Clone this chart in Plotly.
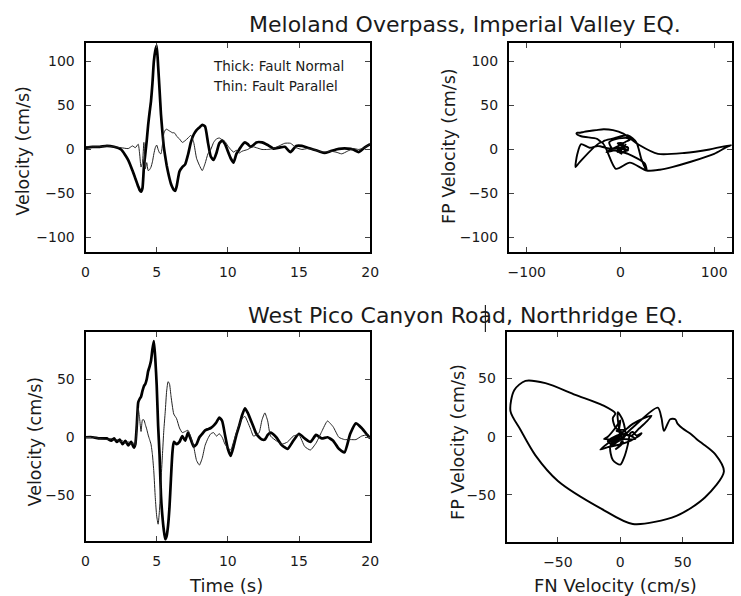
import plotly.graph_objects as go

# ---------------- data ----------------
# Meloland Overpass, Imperial Valley EQ.
t_top = [0, 0.5, 1, 1.5, 2, 2.5, 3.0, 3.3, 3.5,
         3.7, 3.8, 3.9, 4.0, 4.1, 4.2, 4.3, 4.4, 4.5, 4.6, 4.7, 4.8, 4.9, 5.0,
         5.1, 5.2, 5.3, 5.4, 5.5, 5.6, 5.7, 5.8, 5.9, 6.0, 6.1, 6.2, 6.3, 6.4,
         6.6, 6.8, 7.0, 7.2, 7.4, 7.6, 7.8, 8.0, 8.2, 8.4, 8.6, 8.8, 9.0, 9.2,
         9.4, 9.6, 9.8, 10.0, 10.2, 10.4, 10.6, 10.8, 11.0, 11.2, 11.4, 11.6,
         11.8, 12.0, 12.4, 12.8, 13.2, 13.6, 14.0, 14.4, 14.8, 15.2, 15.6,
         16.0, 16.4, 16.8, 17.2, 17.6, 18.0, 18.4, 18.8, 19.2, 19.6, 20.0]
fn_top = [2, 3, 3, 4, 3, 0, -12, -24, -33,
          -42, -46, -48, -44, -20, -5, 10, 28, 42, 55, 75, 100, 112, 118,
          95, 68, 40, 20, 3, -8, -18, -26, -33, -39, -43, -46, -47, -42,
          -25, -20, -17, -6, 8, 17, 22, 25, 28, 26, 8, -8, -12, -4,
          7, 10, 6, -2, -10, -15, -5, 0, 5, 8, 6, 3,
          5, 8, 8, 5, 1, 2, 3, -3, 4, 4, 2,
          0, -2, -4, -2, 0, 1, 1, 0, -3, 2, 6]
fp_top = [3, 3, 3, 4, 3, 2, 1, 4, 2,
          6, -5, -20, -15, 8, -22, -15, -24, -23, -20, -14, -5, 2, 5,
          0, -4, -5, 5, 18, 22, 23, 22, 21, 20, 19, 19, 18, 15,
          12, 8, 10, 13, 16, 8, -10, -18, -24, -16, -5, 0, 8, 12,
          13, 11, 9, 4, 0, -3, -1, -4, -2, -1, 0, 2,
          3, 2, 0, 0, 1, 4, 7, 7, 2, 0, 1,
          0, -2, -3, -2, -3, -5, -2, 1, 0, 2, 6]

# West Pico Canyon Road, Northridge EQ.
t_bot = [0, 0.5, 1.0, 1.5, 1.8, 2.0, 2.2, 2.4, 2.6, 2.8, 3.0, 3.2, 3.4, 3.5,
         3.6, 3.7, 3.8, 3.9, 4.0, 4.1, 4.2, 4.3, 4.4, 4.5, 4.6, 4.7, 4.8, 4.9,
         5.0, 5.1, 5.2, 5.3, 5.4, 5.5, 5.6, 5.7, 5.8, 5.9, 6.0, 6.1, 6.2,
         6.4, 6.6, 6.8, 7.0, 7.2, 7.4, 7.6, 7.8, 8.0, 8.2, 8.4, 8.6, 8.8, 9.0,
         9.2, 9.4, 9.6, 9.8, 10.0, 10.2, 10.4, 10.6, 10.8, 11.0, 11.2, 11.4,
         11.6, 11.8, 12.0, 12.2, 12.4, 12.6, 12.8, 13.0,
         13.4, 13.8, 14.2, 14.6, 15.0, 15.4, 15.8, 16.2, 16.6, 17.0, 17.4,
         17.8, 18.2, 18.6, 19.0, 19.4, 19.8, 20.0]
fn_bot = [0, 0, -1, -1, -3, -1, -4, -2, -6, -3, -7, -4, -9, -6,
          10, 30, 33, 35, 40, 44, 46, 50, 57, 61, 66, 76, 83, 68,
          45, 10, -15, -50, -68, -80, -88, -85, -76, -60, -36, -14, -4,
          -6, -4, 1, -3, 4, -2, -8, -6, 0, 3, 6, 7, 8, 10,
          13, 17, 14, 2, -10, -16, -8, 2, 10, 19, 25, 21,
          15, 9, 3, 0, -2, -2, 2, 4,
          0, -7, -10, -3, 3, -1, -4, 2, -1, 0, -3,
          -10, -13, 3, 12, 8, 2, -1]
fp_bot = [0, 0, -1, -2, -1, -3, -2, -4, -3, -5, -4, -6, -5, -7,
          8, 25, 16, 5, 15, 15, 11, 7, 2, -2, -6, -15, -30, -52,
          -68, -75, -62, -38, -16, 6, 22, 40, 48, 46, 36, 27, 20,
          16, 8, 4, 5, 6, 0, -8, -20, -24, -18, -7, -1, 3, 4,
          1, 3, 0, -6, -9, -11, -4, 4, 11, 16, 18, 13,
          7, 1, 2, 4, 15, 21, 14, 1,
          -3, -6, -4, 1, 2, -8, -11, -5, 5, 14, 9,
          0, -2, -2, -2, 1, 2, -1]

time_ticks = [0, 5, 10, 15, 20]

# ---------------- figure ----------------
W, H = 741, 596
FONT = "DejaVu Sans, Liberation Sans, Arial, sans-serif"


def xd(a, b):
    return [a / W, b / W]


def yd(top, bottom):
    return [1 - bottom / H, 1 - top / H]


fig = go.Figure()

thick = dict(color="black", width=2.7)
thin = dict(color="#222222", width=1.0)
hodo = dict(color="black", width=1.9)

fig.add_trace(go.Scatter(x=t_top, y=fn_top, mode="lines", line=dict(**thick, shape="spline", smoothing=0.5),
                         xaxis="x", yaxis="y", name="Fault Normal"))
fig.add_trace(go.Scatter(x=t_top, y=fp_top, mode="lines", line=dict(**thin, shape="spline", smoothing=0.5),
                         xaxis="x", yaxis="y", name="Fault Parallel"))
fig.add_trace(go.Scatter(x=fn_top, y=fp_top, mode="lines", line=dict(**hodo, shape="spline", smoothing=0.7),
                         xaxis="x2", yaxis="y2", name="Hodogram"))
fig.add_trace(go.Scatter(x=t_bot, y=fn_bot, mode="lines", line=dict(**thick, shape="spline", smoothing=0.5),
                         xaxis="x3", yaxis="y3", name="Fault Normal"))
fig.add_trace(go.Scatter(x=t_bot, y=fp_bot, mode="lines", line=dict(**thin, shape="spline", smoothing=0.5),
                         xaxis="x3", yaxis="y3", name="Fault Parallel"))
fig.add_trace(go.Scatter(x=fn_bot, y=fp_bot, mode="lines", line=dict(**hodo, shape="spline", smoothing=0.8),
                         xaxis="x4", yaxis="y4", name="Hodogram"))

axis_common = dict(
    showline=True, linecolor="black", linewidth=2, mirror="ticks",
    ticks="inside", ticklen=5, tickwidth=1, tickcolor="#444444",
    showgrid=False, zeroline=False,
    tickfont=dict(family=FONT, size=14, color="#1a1a1a"),
    ticklabelstandoff=6,
)

fig.update_layout(
    width=W, height=H,
    margin=dict(l=0, r=0, t=0, b=0, pad=0),
    paper_bgcolor="white", plot_bgcolor="white",
    showlegend=False,
    font=dict(family=FONT, color="#1a1a1a"),
    xaxis=dict(axis_common, domain=xd(83, 372.7), range=[0, 20], tickvals=time_ticks, anchor="y"),
    yaxis=dict(axis_common, domain=yd(42.5, 252), range=[-116.5, 121.5], tickvals=[-100, -50, 0, 50, 100], anchor="x"),
    xaxis2=dict(axis_common, domain=xd(514, 741), range=[-119, 119], tickvals=[-100, 0, 100], anchor="y2"),
    yaxis2=dict(axis_common, domain=yd(42.5, 252), range=[-116.5, 121.5], tickvals=[-100, -50, 0, 50, 100], anchor="x2"),
    xaxis3=dict(axis_common, domain=xd(83, 372.7), range=[0, 20], tickvals=time_ticks, anchor="y3"),
    yaxis3=dict(axis_common, domain=yd(332, 541), range=[-89.5, 90.8], tickvals=[-50, 0, 50], anchor="x3"),
    xaxis4=dict(axis_common, domain=xd(511.7, 741), range=[-91, 89.5], tickvals=[-50, 0, 50], anchor="y4"),
    yaxis4=dict(axis_common, domain=yd(332, 542), range=[-90.5, 90], tickvals=[-50, 0, 50], anchor="x4"),
)


def ann(text, x, y, size, angle=0, xanchor="center"):
    fig.add_annotation(text=text, x=x / W, y=1 - y / H, xref="paper", yref="paper",
                       showarrow=False, textangle=angle, xanchor=xanchor, yanchor="middle",
                       font=dict(family=FONT, size=size, color="#1a1a1a"))


# panel titles
ann("Meloland Overpass, Imperial Valley EQ.", 469, 25, 22)
ann("West Pico Canyon Road, Northridge EQ.", 470, 315, 22)
# legend text inside first panel
ann("Thick: Fault Normal", 211, 66, 13.5, xanchor="left")
ann("Thin: Fault Parallel", 211, 86, 13.5, xanchor="left")
# axis titles
ann("Velocity (cm/s)", 19, 151, 17.5, angle=-90)
ann("FP Velocity (cm/s)", 453, 146, 17.5, angle=-90)
ann("Velocity (cm/s)", 32, 441, 17.5, angle=-90)
ann("FP Velocity (cm/s)", 462, 442, 17.5, angle=-90)
ann("Time (s)", 226, 585, 18)
ann("FN Velocity (cm/s)", 622, 585, 18)

# small vertical cursor mark seen through the word "Road"
fig.add_shape(type="line", xref="paper", yref="paper",
              x0=490 / W, x1=490 / W, y0=1 - 305 / H, y1=1 - 332 / H,
              line=dict(color="#222222", width=1.2))

fig.write_html("out.html", config={"displayModeBar": False},
               post_script="document.body.style.margin='0';")
